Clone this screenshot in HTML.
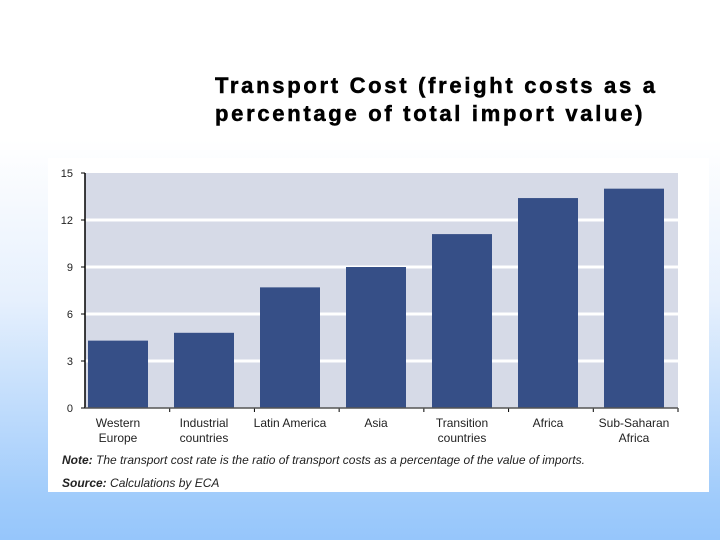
<!DOCTYPE html>
<html><head><meta charset="utf-8"><style>
body{margin:0;width:720px;height:540px;overflow:hidden;background:linear-gradient(to bottom,#ffffff 0px,#ffffff 140px,#e6f0fd 300px,#9fcbfb 500px,#96c6fb 540px);font-family:"Liberation Sans",sans-serif;position:relative}
#title{position:absolute;left:215px;top:72px;font-size:22px;font-weight:bold;letter-spacing:2.7px;line-height:28px;color:#000;white-space:nowrap;-webkit-text-stroke:0.5px #000}
#box{position:absolute;left:48px;top:158px;width:661px;height:334px;background:#fff}
</style></head><body>
<div id="title">Transport Cost (freight costs as a<br>percentage of total import value)</div>
<div id="box"></div>
<svg id="chart" width="720" height="540" style="position:absolute;left:0;top:0"></svg>
<script>
const categories=[["Western","Europe"],["Industrial","countries"],["Latin America"],["Asia"],["Transition","countries"],["Africa"],["Sub-Saharan","Africa"]];
const values=[4.3,4.8,7.7,9.0,11.1,13.4,14.0];
const yTicks=[0,3,6,9,12,15];
const NS="http://www.w3.org/2000/svg";
const svg=document.getElementById('chart');
const x0=85,x1=678,yb=408,yt=173,ymax=15;
const y=v=>yb-(v/ymax)*(yb-yt);
const barX=i=>88+i*86;
const tickX=i=>85+(i+1)*(x1-85)/categories.length;
function el(t,a){const e=document.createElementNS(NS,t);for(const k in a)e.setAttribute(k,a[k]);svg.appendChild(e);return e;}
const bg=el('rect',{x:x0,y:yt,width:x1-x0,height:yb-yt,fill:'#d6dae7'});


yTicks.forEach(t=>{
  if(t>0&&t<15){const g=el('line',{x1:x0,x2:x1,y1:y(t),y2:y(t),stroke:'#fff','stroke-width':3});
  
  }
  const tk=el('line',{x1:x0-4,x2:x0,y1:y(t),y2:y(t),stroke:'#000','stroke-width':1});
  
  
  const tx=el('text',{x:x0-12,y:y(t)+4,'text-anchor':'end','font-size':11,fill:'#222'});
  tx.textContent=t;
  
  
});
values.forEach((v,i)=>{
  const b=el('rect',{x:barX(i),y:y(v),width:60,height:yb-y(v),fill:'#364f87'});
  
  
  const tk=el('line',{x1:tickX(i),x2:tickX(i),y1:yb,y2:yb+4,stroke:'#000'});
  
  
  categories[i].forEach((ln,j)=>{
    const t=el('text',{x:barX(i)+30,y:yb+19+j*15,'text-anchor':'middle','font-size':12,fill:'#222'});
    t.textContent=ln;
    
    
  });
});
const ax=el('line',{x1:x0,x2:x0,y1:yt,y2:yb,stroke:'#000','stroke-width':1.5});


const bx=el('line',{x1:x0,x2:x1,y1:yb,y2:yb,stroke:'#555','stroke-width':1.5});


const n=el('text',{x:62,y:464,'font-size':12,'font-style':'italic',fill:'#222'});
n.innerHTML='<tspan font-weight="bold">Note:</tspan> The transport cost rate is the ratio of transport costs as a percentage of the value of imports.';


const s=el('text',{x:62,y:487,'font-size':12,'font-style':'italic',fill:'#222'});
s.innerHTML='<tspan font-weight="bold">Source:</tspan> Calculations by ECA';


</script>
</body></html>
